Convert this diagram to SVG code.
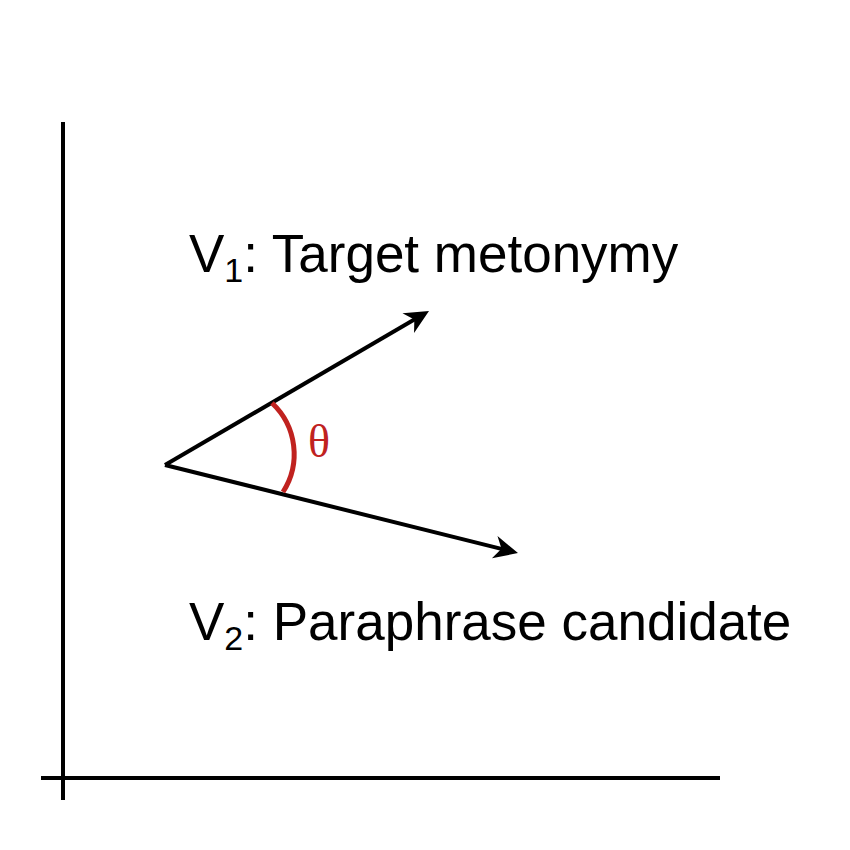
<svg xmlns="http://www.w3.org/2000/svg" width="850" height="850" viewBox="0 0 850 850">
<style>
.ax{stroke:#000;stroke-width:4;fill:none}
.vec{stroke:#000;stroke-width:4;fill:none;marker-end:url(#ah)}
.lbl{font-family:"Liberation Sans",Arial,sans-serif;font-size:53px;fill:#000}
.sub{font-size:34px}
.th{font-family:"Liberation Serif","Times New Roman",serif;font-size:46px;fill:#c0221f}
</style>
<defs>
<marker id="ah" markerUnits="userSpaceOnUse" markerWidth="40" markerHeight="40" viewBox="-20 -20 40 40" refX="0" refY="0" orient="auto" overflow="visible">
<path d="M14 0 L-10 -11.5 L-3 0 L-10 11.5 Z" fill="#000"/>
</marker>
</defs>
<rect width="850" height="850" fill="#fff"/>
<g id="axes">
<line class="ax" x1="63" y1="122" x2="63" y2="800"/>
<line class="ax" x1="41" y1="778" x2="720" y2="778"/>
</g>
<g id="connectors">
<line class="vec" x1="165" y1="465" x2="416.9" y2="318.1"/>
<line class="vec" x1="165" y1="465" x2="504.4" y2="549.6"/>
</g>
<g id="angle">
<path d="M272 403 A70 70 0 0 1 283 492" stroke="#c0221f" stroke-width="5" fill="none"/>
<text class="th" x="308" y="457">θ</text>
</g>
<g id="v1">
<text class="lbl" x="189" y="272">V<tspan class="sub" dy="10">1</tspan><tspan dy="-10">: Target metonymy</tspan></text>
</g>
<g id="v2">
<text class="lbl" x="189" y="640">V<tspan class="sub" dy="10">2</tspan><tspan dy="-10">: Paraphrase candidate</tspan></text>
</g>
</svg>
